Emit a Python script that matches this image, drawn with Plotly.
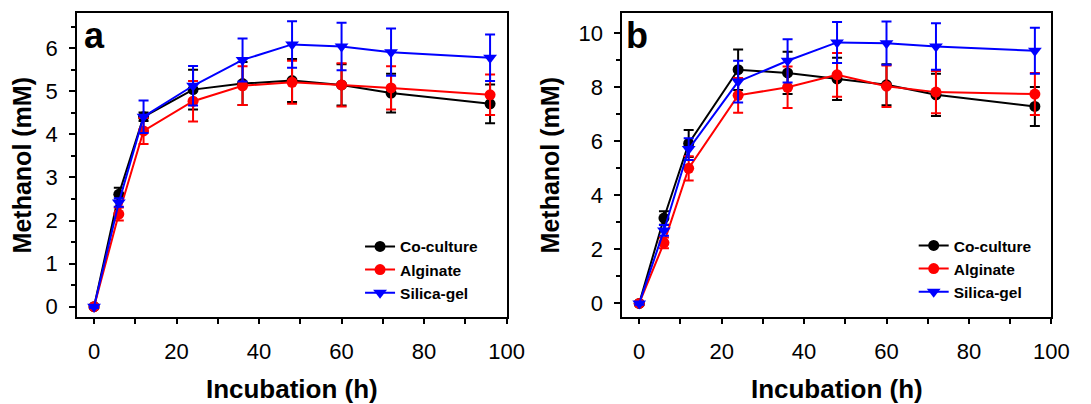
import plotly.graph_objects as go

time_h = [0, 6, 12, 24, 36, 48, 60, 72, 96]

# Panel a
a_co = [0.0, 2.61, 4.41, 5.04, 5.18, 5.25, 5.15, 4.96, 4.71]
a_co_err = [0.03, 0.15, 0.10, 0.46, 0.50, 0.50, 0.48, 0.45, 0.45]
a_alg = [0.0, 2.15, 4.08, 4.77, 5.13, 5.21, 5.15, 5.08, 4.92]
a_alg_err = [0.03, 0.15, 0.30, 0.47, 0.45, 0.50, 0.50, 0.50, 0.47]
a_sil = [0.0, 2.42, 4.41, 5.13, 5.73, 6.09, 6.04, 5.91, 5.78]
a_sil_err = [0.03, 0.10, 0.38, 0.46, 0.50, 0.54, 0.55, 0.55, 0.54]

# Panel b
b_co = [0.0, 3.16, 5.92, 8.65, 8.53, 8.31, 8.09, 7.72, 7.29]
b_co_err = [0.05, 0.25, 0.50, 0.75, 0.78, 0.78, 0.76, 0.78, 0.72]
b_alg = [0.0, 2.24, 5.00, 7.70, 8.00, 8.46, 8.04, 7.82, 7.75]
b_alg_err = [0.05, 0.20, 0.45, 0.64, 0.77, 0.81, 0.77, 0.78, 0.78]
b_sil = [0.0, 2.70, 5.71, 8.21, 8.98, 9.66, 9.63, 9.51, 9.35]
b_sil_err = [0.05, 0.20, 0.40, 0.77, 0.80, 0.76, 0.80, 0.86, 0.85]

series_names = ["Co-culture", "Alginate", "Silica-gel"]
colors = ["#000000", "#ff0000", "#0000ff"]
symbols = ["circle", "circle", "triangle-down"]

fig = go.Figure()

panels = [
    ("x", "y", "legend", [a_co, a_alg, a_sil], [a_co_err, a_alg_err, a_sil_err]),
    ("x2", "y2", "legend2", [b_co, b_alg, b_sil], [b_co_err, b_alg_err, b_sil_err]),
]
for xa, ya, lg, vals, errs in panels:
    for name, col, sym, v, e in zip(series_names, colors, symbols, vals, errs):
        fig.add_trace(go.Scatter(
            x=time_h, y=v, name="<b>" + name + "</b>", mode="lines+markers",
            xaxis=xa, yaxis=ya, legend=lg,
            line=dict(color=col, width=2),
            marker=dict(color=col, symbol=sym, size=11 if sym == "circle" else 12),
            error_y=dict(type="data", array=e, visible=True, color=col,
                         thickness=2, width=5),
        ))

FONT = "Liberation Sans, Arial, sans-serif"
tickfont = dict(family=FONT, size=22, color="#000000")

# page body has an 8px margin; figure coordinates = window coordinates - 8
OFF = 8
W, H = 1091 - OFF, 404 - OFF

def px_x(v):
    return (v - OFF) / W

def px_y(v):
    return (H - (v - OFF)) / H

def xaxis(domain, anchor):
    return dict(domain=domain, anchor=anchor, range=[-4.1, 100],
                tickmode="array", tickvals=[0, 20, 40, 60, 80, 100],
                ticks="outside", ticklen=5, tickwidth=2, tickcolor="#000",
                minor=dict(tickvals=[10, 30, 50, 70, 90], ticks="outside",
                           ticklen=5, tickwidth=2, tickcolor="#000"),
                showline=True, linewidth=2, linecolor="#000", mirror=True,
                showgrid=False, zeroline=False, tickfont=tickfont,
                ticklabelstandoff=8,
                tickprefix="<b>", ticksuffix="</b>",
                title=dict(text="<b>Incubation (h)</b>",
                           font=dict(family=FONT, size=26, color="#000"), standoff=17))

def yaxis(domain, anchor, rng, tv, mv):
    return dict(domain=domain, anchor=anchor, range=rng,
                tickmode="array", tickvals=tv,
                ticks="outside", ticklen=6, tickwidth=2, tickcolor="#000",
                minor=dict(tickvals=mv, ticks="outside", ticklen=4,
                           tickwidth=2, tickcolor="#000"),
                showline=True, linewidth=2, linecolor="#000", mirror=True,
                showgrid=False, zeroline=False, tickfont=tickfont,
                ticklabelstandoff=7,
                tickprefix="<b>", ticksuffix="</b>",
                title=dict(text="<b>Methanol (mM)</b>",
                           font=dict(family=FONT, size=25, color="#000"), standoff=12))

ydom = [px_y(319), px_y(13)]
legfont = dict(family=FONT, size=15.5, color="#000")

fig.update_layout(
    width=W, height=H,
    margin=dict(l=0, r=0, t=0, b=0),
    paper_bgcolor="white", plot_bgcolor="white",
    xaxis=xaxis([px_x(78.3), px_x(515)], "y"),
    yaxis=yaxis(ydom, "x", [-0.25, 6.82], [0, 1, 2, 3, 4, 5, 6],
                [0.5, 1.5, 2.5, 3.5, 4.5, 5.5, 6.5]),
    xaxis2=xaxis([px_x(632.7), px_x(1069)], "y2"),
    yaxis2=yaxis(ydom, "x2", [-0.52, 10.75], [0, 2, 4, 6, 8, 10],
                 [1, 3, 5, 7, 9]),
    legend=dict(x=px_x(366), y=px_y(231), xanchor="left", yanchor="top",
                bgcolor="rgba(0,0,0,0)", tracegroupgap=0, font=legfont),
    legend2=dict(x=px_x(929), y=px_y(230), xanchor="left", yanchor="top",
                 bgcolor="rgba(0,0,0,0)", tracegroupgap=0, font=legfont),
    annotations=[
        dict(text="<b>a</b>", x=px_x(83), y=px_y(36), xref="paper", yref="paper",
             xanchor="left", yanchor="middle", showarrow=False,
             font=dict(family=FONT, size=36, color="#000")),
        dict(text="<b>b</b>", x=px_x(634), y=px_y(36), xref="paper", yref="paper",
             xanchor="left", yanchor="middle", showarrow=False,
             font=dict(family=FONT, size=36, color="#000")),
    ],
)

fig.write_html("out.html")
